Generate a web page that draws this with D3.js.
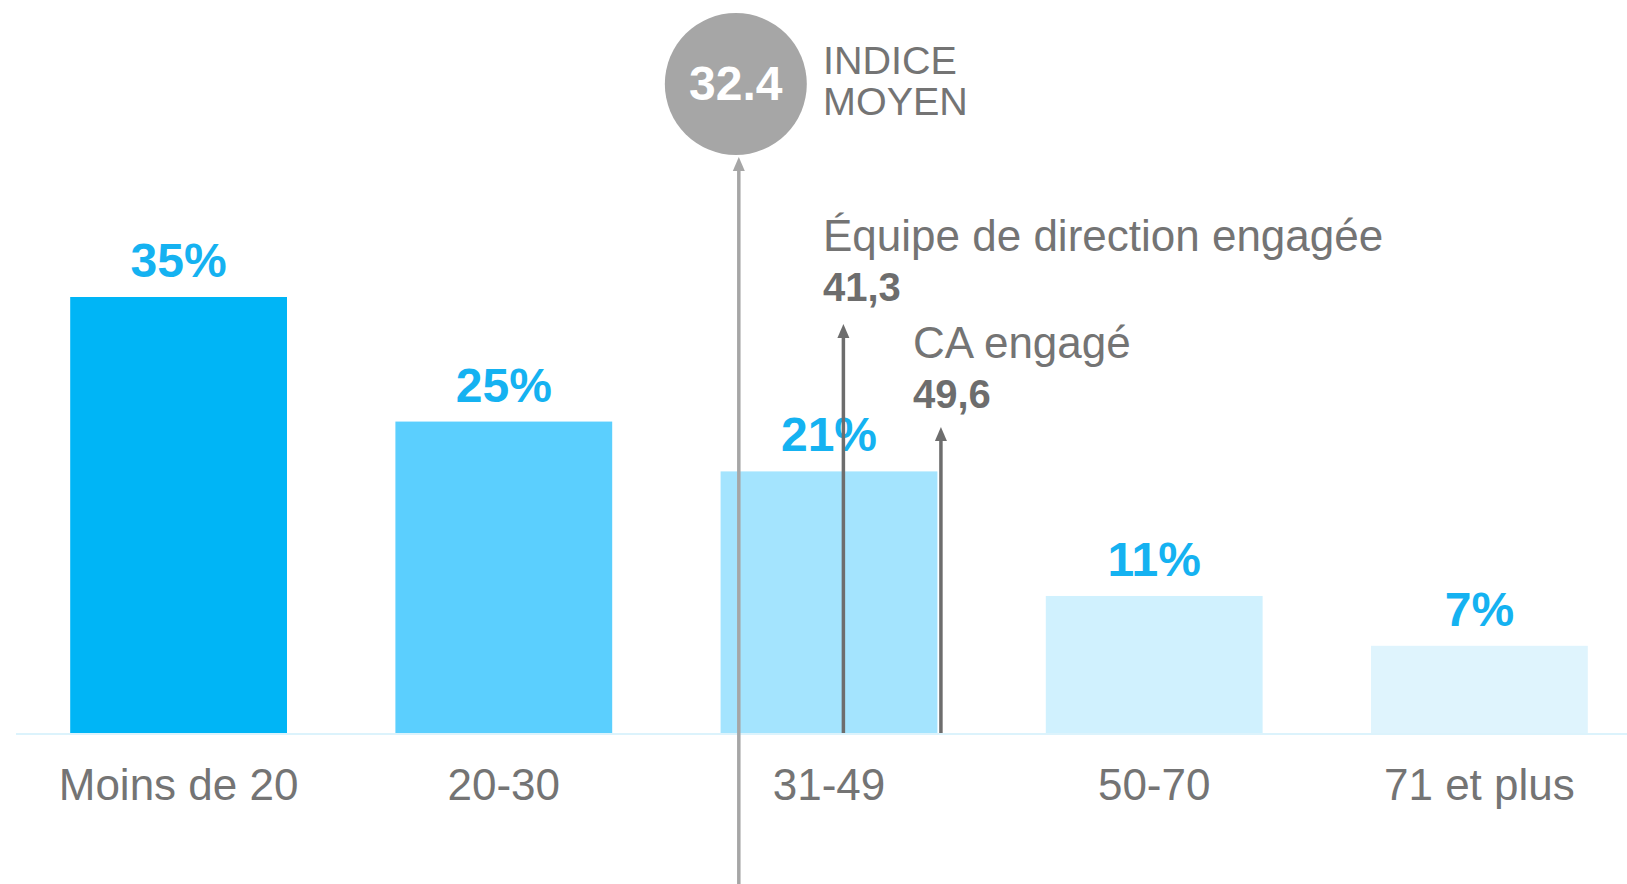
<!DOCTYPE html>
<html>
<head>
<meta charset="utf-8">
<style>
  body { margin: 0; background: #fff; }
  svg { display: block; font-family: Arial, "Liberation Sans", sans-serif; }
</style>
</head>
<body>
<svg></svg>
<script src="https://cdn.jsdelivr.net/npm/d3@7"></script>
<script>

  // data
  const categories = ["Moins de 20", "20-30", "31-49", "50-70", "71 et plus"]
  const shares = [35, 25, 21, 11, 7]
  const barColors = ["#00B5F6", "#5BCFFE", "#A4E4FE", "#D0F1FE", "#DFF4FD"]

  const meanIndex = 32.4
  const markers = [
    {label: "Équipe de direction engagée", value: 41.3},
    {label: "CA engagé", value: 49.6}
  ]

  const width = 1627,
        height = 884,
        baseline = 733,
        colors = {label: '#15B2F1', text: '#747474', dark: '#6D6D6D', mean: '#A6A6A6', axis: '#DCF3FC'}

  const svg = d3.select("svg")
      .attr("width", width)
      .attr("height", height)

  const xScale = d3.scaleBand()
    .domain(categories)
    .range([16, 1642])
    .paddingInner(1/3)
    .paddingOuter(1/6)

  const yScale = d3.scaleLinear()
    .domain([0, 35])
    .range([baseline, 297])

  // index scale, aligned on the 31-49 band
  const idxScale = d3.scaleLinear()
    .domain([30.85, 49.3])
    .range([xScale("31-49"), xScale("31-49") + xScale.bandwidth()])

  svg.selectAll(".bar")
    .data(shares)
    .enter()
    .append("rect")
      .attr("class", "bar")
      .attr("x", (d, i) => xScale(categories[i]))
      .attr("width", xScale.bandwidth())
      .attr("y", d => yScale(d))
      .attr("height", d => baseline - yScale(d))
      .attr("fill", (d, i) => barColors[i])

  // base line
  svg.append("line")
    .attr("x1", 16).attr("x2", width)
    .attr("y1", baseline + 1).attr("y2", baseline + 1)
    .attr("stroke", colors.axis)
    .attr("stroke-width", 2)

  svg.selectAll(".pct")
    .data(shares)
    .enter()
    .append("text")
      .attr("class", "pct")
      .attr("x", (d, i) => xScale(categories[i]) + xScale.bandwidth()/2)
      .attr("y", d => yScale(d) - 20)
      .style("text-anchor", "middle")
      .style("font-weight", "bold")
      .style("font-size", "48px")
      .style("fill", colors.label)
      .text(d => d + "%")

  svg.selectAll(".cat")
    .data(categories)
    .enter()
    .append("text")
      .attr("class", "cat")
      .attr("x", d => xScale(d) + xScale.bandwidth()/2)
      .attr("y", 800)
      .style("text-anchor", "middle")
      .style("font-size", "44px")
      .style("fill", colors.text)
      .text(d => d)

  function arrow(x, yTop, yBottom, color) {
    const g = svg.append("g")
    g.append("line")
      .attr("x1", x).attr("x2", x)
      .attr("y1", yBottom).attr("y2", yTop + 10)
      .attr("stroke", color)
      .attr("stroke-width", 3.5)
    g.append("path")
      .attr("d", `M${x},${yTop} L${x - 6},${yTop + 14} L${x + 6},${yTop + 14} Z`)
      .attr("fill", color)
  }

  // mean index line + bubble
  const xMean = idxScale(meanIndex)
  arrow(xMean, 157, height, colors.mean)

  svg.append("circle")
    .attr("cx", xMean - 3)
    .attr("cy", 84)
    .attr("r", 71)
    .attr("fill", colors.mean)

  svg.append("text")
    .attr("x", xMean - 3)
    .attr("y", 100)
    .style("text-anchor", "middle")
    .style("font-weight", "bold")
    .style("font-size", "48px")
    .style("fill", "#fff")
    .text(meanIndex.toFixed(1))

  const meanLbl = svg.append("text")
    .attr("x", 823)
    .style("font-size", "39.5px")
    .style("fill", colors.text)
  meanLbl.append("tspan").attr("x", 823).attr("y", 74).text("INDICE")
  meanLbl.append("tspan").attr("x", 823).attr("y", 115).text("MOYEN")

  // engaged markers
  const tips = [324, 427]
  const textX = [823, 913]
  const textY = [251, 358]

  markers.forEach((m, i) => {
    arrow(idxScale(m.value), tips[i], baseline, colors.dark)
    svg.append("text")
      .attr("x", textX[i])
      .attr("y", textY[i])
      .style("font-size", "44px")
      .style("fill", colors.text)
      .text(m.label)
    svg.append("text")
      .attr("x", textX[i])
      .attr("y", textY[i] + 50)
      .style("font-size", "40px")
      .style("font-weight", "bold")
      .style("fill", colors.dark)
      .text(m.value.toFixed(1).replace(".", ","))
  })

</script>
</body>
</html>
